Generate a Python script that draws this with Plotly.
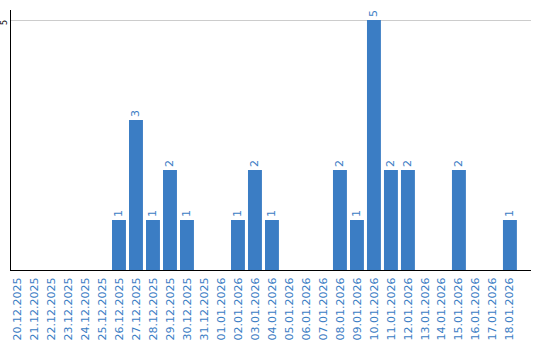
import plotly.graph_objects as go

dates = ["20.12.2025", "21.12.2025", "22.12.2025", "23.12.2025", "24.12.2025",
         "25.12.2025", "26.12.2025", "27.12.2025", "28.12.2025", "29.12.2025",
         "30.12.2025", "31.12.2025", "01.01.2026", "02.01.2026", "03.01.2026",
         "04.01.2026", "05.01.2026", "06.01.2026", "07.01.2026", "08.01.2026",
         "09.01.2026", "10.01.2026", "11.01.2026", "12.01.2026", "13.01.2026",
         "14.01.2026", "15.01.2026", "16.01.2026", "17.01.2026", "18.01.2026"]
counts = [0, 0, 0, 0, 0, 0, 1, 3, 1, 2, 1, 0, 0, 1, 2, 1, 0, 0, 0, 2, 1, 5, 2, 2, 0, 0, 2, 0, 0, 1]
labels = [str(v) if v else "" for v in counts]
y_ticks = [5]

BLUE = "#3b7dc4"
FONT = "DejaVu Sans"

fig = go.Figure(go.Bar(
    x=list(range(len(dates))), y=counts, text=labels, textposition="outside",
    textangle=-90, textfont=dict(color=BLUE, size=11, family=FONT),
    marker=dict(color=BLUE, line=dict(width=0)), cliponaxis=False,
))
fig.update_layout(
    width=540, height=340, margin=dict(l=11, r=9, t=10, b=70),
    plot_bgcolor="white", paper_bgcolor="white", bargap=0.18,
    showlegend=False,
    xaxis=dict(range=[-0.353, 30.24], tickvals=list(range(len(dates))), ticktext=dates,
               tickangle=-90, tickfont=dict(color=BLUE, size=11, family=FONT),
               showline=True, linecolor="black", linewidth=1, showgrid=False,
               ticks="", zeroline=False, automargin=False, ticklabelstandoff=2),
    yaxis=dict(range=[0, 5.2], tickvals=y_ticks, showticklabels=False,
               showline=True, linecolor="black", linewidth=1, showgrid=True,
               gridcolor="#cccccc", ticks="", zeroline=False, automargin=False),
)
for t in y_ticks:
    fig.add_annotation(x=0, xref="paper", y=t, yref="y", text=str(t), showarrow=False,
                       textangle=-90, xanchor="center", yanchor="middle",
                       xshift=-7, yshift=-3,
                       font=dict(color="black", size=8, family=FONT))
fig.write_html("out.html")
